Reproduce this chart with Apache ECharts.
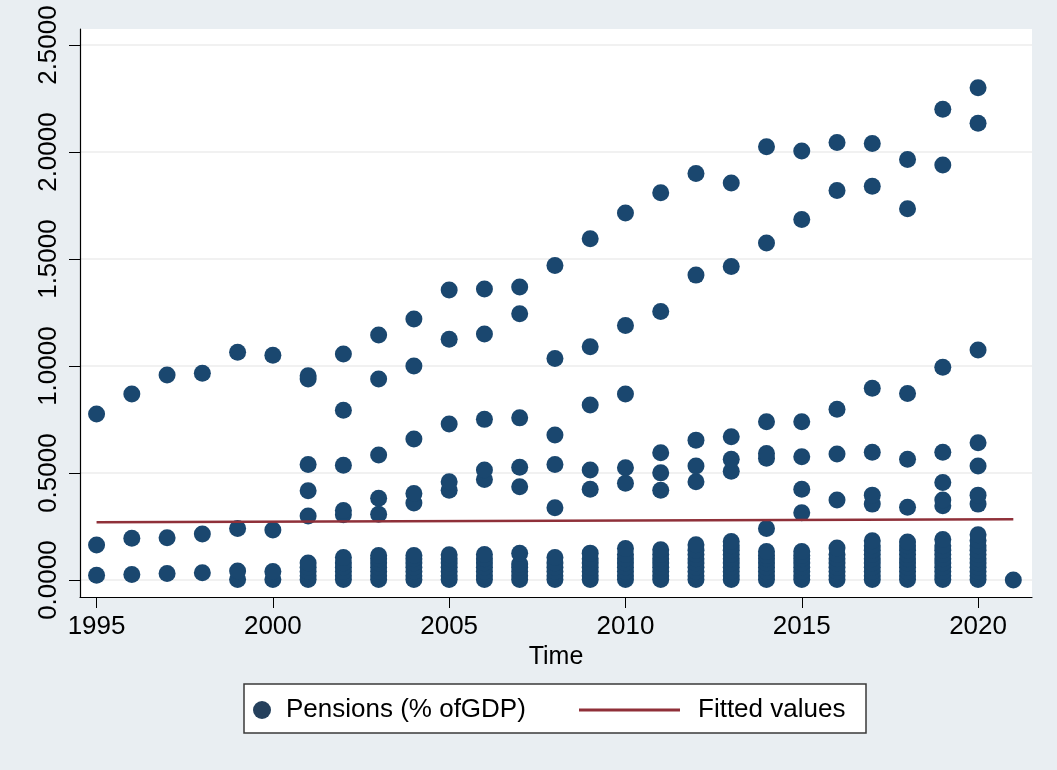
<!DOCTYPE html>
<html>
<head>
<meta charset="utf-8">
<title>Pensions (% of GDP)</title>
<script src="https://cdn.jsdelivr.net/npm/echarts@6/dist/echarts.min.js"></script>
<style>
  html, body { margin: 0; padding: 0; background: #e9eef2; }
  #pensions_scatter { width: 1057px; height: 770px; }
</style>
</head>
<body>
<div id="pensions_scatter"></div>
<script>
// one entry per year, all observations for that year
const years = [1995, 1996, 1997, 1998, 1999, 2000, 2001, 2002, 2003, 2004, 2005, 2006, 2007, 2008,
  2009, 2010, 2011, 2012, 2013, 2014, 2015, 2016, 2017, 2018, 2019, 2020, 2021];
const pensions = [
  [0.023, 0.164, 0.776],
  [0.026, 0.196, 0.87],
  [0.031, 0.198, 0.958],
  [0.034, 0.215, 0.967],
  [0.003, 0.042, 0.241, 1.065],
  [0.003, 0.04, 0.234, 1.051],
  [0.003, 0.02, 0.04, 0.06, 0.08, 0.30, 0.417, 0.54, 0.94, 0.955],
  [0.003, 0.02, 0.04, 0.06, 0.08, 0.105, 0.305, 0.325, 0.537, 0.794, 1.056],
  [0.003, 0.02, 0.04, 0.06, 0.08, 0.1, 0.115, 0.308, 0.382, 0.584, 0.94, 1.145],
  [0.003, 0.02, 0.04, 0.06, 0.08, 0.1, 0.115, 0.36, 0.405, 0.659, 1.0, 1.22],
  [0.003, 0.02, 0.04, 0.06, 0.08, 0.1, 0.118, 0.42, 0.459, 0.729, 1.125, 1.355],
  [0.003, 0.02, 0.04, 0.06, 0.08, 0.1, 0.12, 0.47, 0.514, 0.751, 1.15, 1.36],
  [0.003, 0.02, 0.04, 0.06, 0.075, 0.125, 0.436, 0.527, 0.758, 1.245, 1.37],
  [0.003, 0.02, 0.04, 0.06, 0.08, 0.106, 0.338, 0.54, 0.678, 1.035, 1.47],
  [0.003, 0.02, 0.04, 0.06, 0.08, 0.1, 0.126, 0.424, 0.514, 0.818, 1.09, 1.595],
  [0.003, 0.02, 0.04, 0.06, 0.08, 0.1, 0.12, 0.148, 0.452, 0.525, 0.869, 1.19, 1.715],
  [0.003, 0.02, 0.04, 0.06, 0.08, 0.1, 0.12, 0.142, 0.42, 0.501, 0.595, 1.255, 1.81],
  [0.003, 0.02, 0.04, 0.06, 0.08, 0.1, 0.12, 0.14, 0.165, 0.459, 0.533, 0.654, 1.425, 1.9],
  [0.003, 0.02, 0.04, 0.06, 0.08, 0.1, 0.12, 0.14, 0.16, 0.18, 0.509, 0.565, 0.67, 1.465, 1.855],
  [0.003, 0.02, 0.04, 0.06, 0.08, 0.1, 0.115, 0.134, 0.241, 0.569, 0.592, 0.74, 1.575, 2.025],
  [0.003, 0.02, 0.04, 0.06, 0.08, 0.1, 0.115, 0.134, 0.315, 0.425, 0.576, 0.74, 1.685, 2.005],
  [0.003, 0.02, 0.04, 0.06, 0.08, 0.1, 0.12, 0.15, 0.374, 0.589, 0.798, 1.82, 2.045],
  [0.003, 0.02, 0.04, 0.06, 0.08, 0.1, 0.12, 0.14, 0.16, 0.184, 0.355, 0.397, 0.597, 0.896, 1.84, 2.04],
  [0.003, 0.02, 0.04, 0.06, 0.08, 0.1, 0.12, 0.14, 0.16, 0.178, 0.34, 0.565, 0.872, 1.735, 1.965],
  [0.003, 0.02, 0.04, 0.06, 0.08, 0.1, 0.12, 0.14, 0.16, 0.19, 0.347, 0.374, 0.456, 0.597, 0.995, 1.94, 2.2],
  [0.003, 0.02, 0.04, 0.06, 0.08, 0.1, 0.12, 0.14, 0.16, 0.185, 0.212, 0.355, 0.397, 0.533, 0.642, 1.075, 2.135, 2.3],
  [0.0]
];
const fitYears = [1995, 2021];
const fitValues = [0.270, 0.284];
const xTicks = [1995, 2000, 2005, 2010, 2015, 2020];
const yTicks = [0, 0.5, 1.0, 1.5, 2.0, 2.5];

function draw_pensions_scatter() {
  var dom = document.getElementById('pensions_scatter');
  var myChart = echarts.init(dom, null, {
    renderer: 'canvas',
    useDirtyRect: false
  });
  var option;

  const font = 'Liberation Sans';
  const dotColor = '#1a476f';
  const fitColor = '#8f3039';

  let scatterData = [];
  for (let i = 0; i < years.length; ++i) {
    pensions[i].forEach(function (v) {
      scatterData.push([years[i], v]);
    });
  }
  let fitData = fitYears.map(function (y, i) {
    return [y, fitValues[i]];
  });

  option = {
    backgroundColor: '#e9eef2',
    animation: false,
    textStyle: { fontFamily: font },
    grid: {
      left: 80,
      right: 25,
      top: 29,
      bottom: 173,
      show: true,
      backgroundColor: '#ffffff',
      borderWidth: 0
    },
    graphic: [
      {
        type: 'rect',
        shape: { x: 244, y: 684, width: 622, height: 49 },
        style: { fill: '#ffffff', stroke: '#3a3a3a', lineWidth: 1.5 },
        z: 0
      }
    ],
    legend: [
      {
        left: 248,
        top: 692,
        icon: 'circle',
        itemWidth: 18,
        itemHeight: 18,
        textStyle: { fontSize: 26, color: '#000', fontFamily: font, padding: [0, 0, 0, 10] },
        data: [{ name: 'Pensions (% ofGDP)', itemStyle: { color: '#25405c' } }],
        z: 5
      },
      {
        left: 574,
        top: 692,
        icon: 'rect',
        itemWidth: 101,
        itemHeight: 3,
        textStyle: { fontSize: 26, color: '#000', fontFamily: font, padding: [0, 0, 0, 13] },
        data: [{ name: 'Fitted values', itemStyle: { color: fitColor } }],
        z: 5
      }
    ],
    xAxis: {
      type: 'value',
      min: 1994.53,
      max: 2021.53,
      name: 'Time',
      nameLocation: 'middle',
      nameGap: 45,
      nameTextStyle: { fontSize: 25, color: '#000', fontFamily: font, verticalAlign: 'top' },
      axisLine: { show: true, onZero: false, lineStyle: { color: '#000', width: 1.2 } },
      axisTick: { show: true, length: 11, customValues: xTicks, lineStyle: { color: '#000' } },
      axisLabel: {
        customValues: xTicks,
        fontSize: 26,
        color: '#000',
        margin: 17,
        formatter: function (v) { return String(Math.round(v)); }
      },
      splitLine: { show: false }
    },
    yAxis: {
      type: 'value',
      min: -0.079,
      max: 2.575,
      axisLine: { show: true, onZero: false, lineStyle: { color: '#000', width: 1.2 } },
      axisTick: { show: true, length: 11, customValues: yTicks, lineStyle: { color: '#000' } },
      axisLabel: {
        customValues: yTicks,
        rotate: 90,
        fontSize: 26,
        color: '#000',
        margin: 18,
        formatter: function (v) { return v.toFixed(4); }
      },
      splitLine: { show: true, lineStyle: { color: '#ececec', width: 1.5 } }
    },
    series: [
      {
        name: 'Pensions (% ofGDP)',
        type: 'scatter',
        data: scatterData,
        symbol: 'circle',
        symbolSize: 17,
        itemStyle: { color: dotColor, opacity: 1 },
        z: 2
      },
      {
        name: 'Fitted values',
        type: 'line',
        data: fitData,
        showSymbol: false,
        symbol: 'none',
        lineStyle: { color: fitColor, width: 2.5 },
        itemStyle: { color: fitColor },
        z: 3
      }
    ]
  };

  if (option && typeof option === 'object') {
    myChart.setOption(option);
  }

  window.addEventListener('resize', myChart.resize);
}

draw_pensions_scatter();
</script>
</body>
</html>
